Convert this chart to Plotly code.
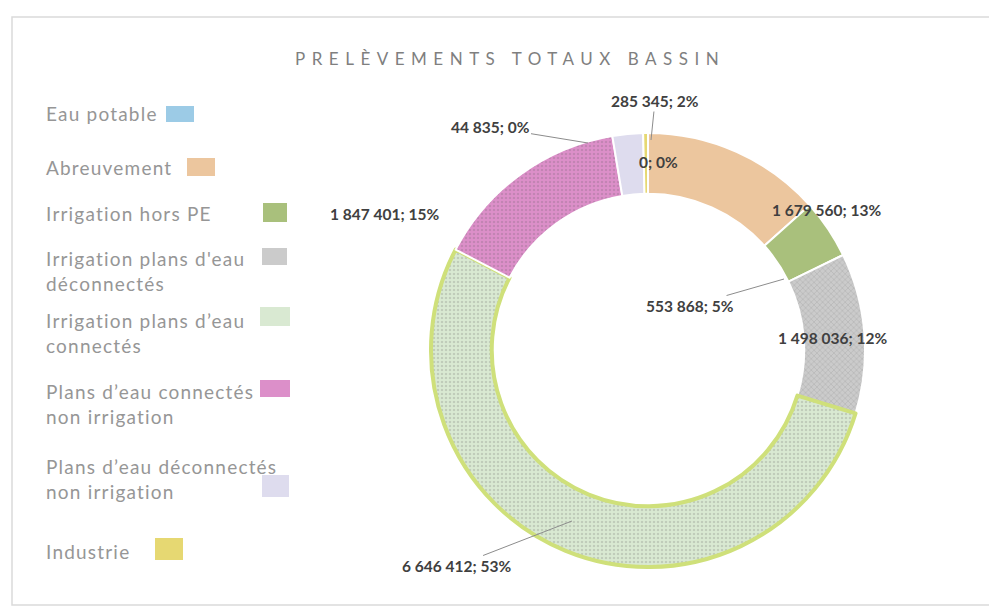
import plotly.graph_objects as go

# data
categories = [
    "Eau potable",
    "Abreuvement",
    "Irrigation hors PE",
    "Irrigation plans d'eau déconnectés",
    "Irrigation plans d’eau connectés",
    "Plans d’eau connectés non irrigation",
    "Plans d’eau déconnectés non irrigation",
    "Industrie",
]
volumes = [0, 1679560, 553868, 1498036, 6646412, 1847401, 285345, 44835]
legend_labels = [
    "Eau potable",
    "Abreuvement",
    "Irrigation hors PE",
    "Irrigation plans d'eau<br>déconnectés",
    "Irrigation plans d’eau<br>connectés",
    "Plans d’eau connectés<br>non irrigation",
    "Plans d’eau déconnectés<br>non irrigation",
    "Industrie",
]
colors = ["#9ccbe6", "#ecc69e", "#a9c07c", "#cbcbcb",
          "#d9e9d2", "#dc8fc9", "#dedcee", "#e6d872"]

W, H = 997, 616
OFF = 8  # page body margin around the plot div


def px(x, y):
    """screen pixel position -> paper coords"""
    return (x - OFF) / W, 1 - (y - OFF) / H


# percentages rounded the way Excel does (largest remainder, sums to 100)
total = sum(volumes)
raw = [v * 100 / total for v in volumes]
pcts = [int(r) for r in raw]
order = sorted(range(len(raw)), key=lambda i: raw[i] - pcts[i], reverse=True)
for i in order[: 100 - sum(pcts)]:
    pcts[i] += 1
label_text = [f"{v:,}".replace(",", " ") + f"; {p}%" for v, p in zip(volumes, pcts)]

line_colors = ["white"] * len(volumes)
line_widths = [2] * len(volumes)
line_colors[4] = "#cfe07a"
line_widths[4] = 4
pattern_shapes = ["", "", "", "x", ".", ".", "", ""]

cx, cy, r = 648, 350, 217
x0, y1 = px(cx - r, cy - r)
x1, y0 = px(cx + r, cy + r)
fig = go.Figure(
    go.Pie(
        labels=categories,
        values=volumes,
        hole=0.72,
        sort=False,
        direction="clockwise",
        rotation=0,
        textinfo="none",
        showlegend=False,
        marker=dict(
            colors=colors,
            line=dict(color=line_colors, width=line_widths),
            pattern=dict(shape=pattern_shapes, bgcolor=colors,
                         fgcolor="rgba(90,90,90,0.2)", size=4, solidity=0.3),
        ),
        domain=dict(x=[x0, x1], y=[y0, y1]),
    )
)

# data labels (text centre, optional leader-line tip)
label_pos = [
    ((658, 162), None),
    ((826, 210), None),
    ((690, 306), (784, 279)),
    ((832, 338), None),
    ((456, 566), (572, 521)),
    ((384, 214), None),
    ((655, 101), (651, 140)),
    ((490, 127), (588, 143)),
]
lab_font = dict(family="Lato", size=15.5, color="#404040")
for txt, (pos, tip) in zip(label_text, label_pos):
    if tip is None:
        x, y = px(*pos)
        fig.add_annotation(x=x, y=y, xref="paper", yref="paper", text=f"<b>{txt}</b>",
                           showarrow=False, xanchor="center", yanchor="middle",
                           font=lab_font)
    else:
        x, y = px(*tip)
        fig.add_annotation(x=x, y=y, xref="paper", yref="paper", text=f"<b>{txt}</b>",
                           showarrow=True, arrowhead=0, arrowwidth=1, arrowcolor="#8c8c8c",
                           ax=pos[0] - tip[0], ay=pos[1] - tip[1], font=lab_font)

# legend drawn Excel-style: text then swatch
legend_rows = [
    (114, (166, 106, 194, 122)),
    (168, (187, 158, 215, 176)),
    (213, (263, 203, 287, 222)),
    (271, (262, 248, 287, 265)),
    (333, (260, 307, 290, 326)),
    (404, (260, 380, 290, 397)),
    (479, (262, 475, 289, 497)),
    (551, (155, 538, 183, 560)),
]
for lab, col, (ty, (sx0, sy0, sx1, sy1)) in zip(legend_labels, colors, legend_rows):
    x, y = px(44, ty)
    fig.add_annotation(x=x, y=y, xref="paper", yref="paper", showarrow=False,
                       text=f'<span style="letter-spacing:1.2px">{lab}</span>',
                       xanchor="left", yanchor="middle", align="left",
                       font=dict(family="Lato", size=19, color="#969696"))
    ax0, ay1 = px(sx0, sy0)
    ax1, ay0 = px(sx1, sy1)
    fig.add_shape(type="rect", xref="paper", yref="paper",
                  x0=ax0, x1=ax1, y0=ay0, y1=ay1,
                  fillcolor=col, line=dict(width=0))

# title with Excel-like letter spacing
tx, ty = px(510, 58)
fig.add_annotation(x=tx, y=ty, xref="paper", yref="paper", showarrow=False,
                   xanchor="center", yanchor="middle",
                   text='<span style="letter-spacing:6.5px">PRELÈVEMENTS TOTAUX BASSIN</span>',
                   font=dict(family="Lato", size=17, color="#7f7f7f"))

# chart frame
fx0, fy1 = px(12, 17)
fx1, fy0 = px(1020, 605)
fig.add_shape(type="rect", xref="paper", yref="paper", x0=fx0, x1=fx1,
              y0=fy0, y1=fy1, line=dict(color="#dadada", width=1.5))

fig.update_layout(
    width=W,
    height=H,
    margin=dict(l=0, r=0, t=0, b=0),
    paper_bgcolor="white",
    plot_bgcolor="white",
)

fig.write_html("out.html")
